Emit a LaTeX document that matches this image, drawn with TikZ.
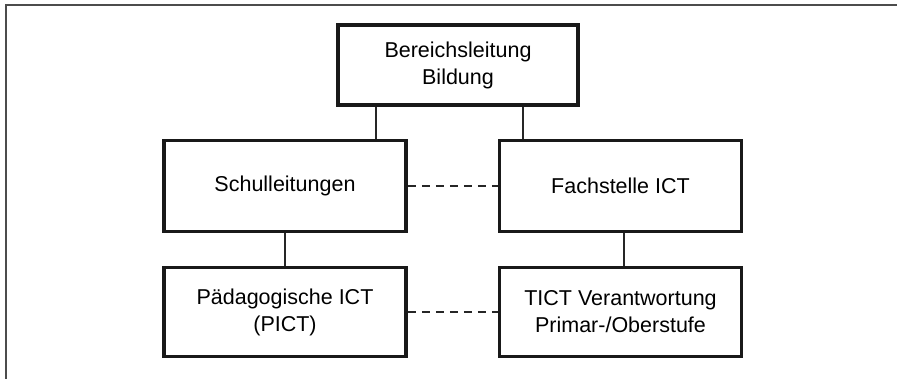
\documentclass[tikz,border=0pt]{standalone}
\usepackage{fontspec}
\setmainfont{Liberation Sans}
\usetikzlibrary{positioning,calc}

\begin{document}
\begin{tikzpicture}[x=1pt,y=-1pt,
        unit/.style={draw=black!90,line width=3.5pt,align=center,inner sep=0pt,
            minimum width=242pt,minimum height=90pt,font=\fontsize{21.5}{27}\selectfont},
        link/.style={black!85,line width=1.2pt},
        coop/.style={link,dash pattern=on 8pt off 6pt}]
        \useasboundingbox (0,0) rectangle (897,379);
        % frame
        \draw[black!70,line width=1.6pt] (6,379) -- (6,5) -- (897,5);
        % units
        \node[unit,minimum width=240pt,minimum height=80pt] (chef) at (458,65) {Bereichsleitung\\Bildung};
        \node[unit,minimum height=91pt] (schul) at (285,186) {Schulleitungen};
        \node[unit,minimum height=91pt] (fach) at (620.5,186) {Fachstelle ICT};
        \node[unit,minimum height=89pt] (paed) at (285,312) {Pädagogische ICT\\(PICT)};
        \node[unit,minimum height=89pt] (tict) at (620.5,312) {TICT Verantwortung\\Primar-/Oberstufe};
        % lines
        \draw[link] (chef.south -| 376,0) -- (schul.north -| 376,0);
        \draw[link] (chef.south -| 523,0) -- (fach.north -| 523,0);
        \draw[link] (schul) -- (paed);
        \draw[link] (fach.south -| 624,0) -- (tict.north -| 624,0);
        \draw[coop] (schul) -- (fach);
        \draw[coop] (paed) -- (tict);
\end{tikzpicture}
\end{document}
